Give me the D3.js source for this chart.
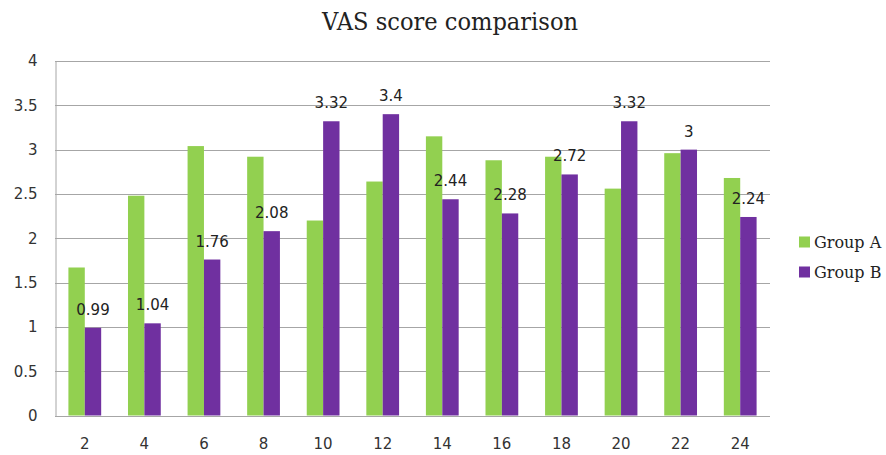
<!DOCTYPE html>
<html>
<head>
<meta charset="utf-8">
<script src="https://cdn.jsdelivr.net/npm/d3@7"></script>
<style>
  body { margin: 0; background: #fff; }
  svg { display: block; }
</style>
</head>
<body>
<svg id="chart" width="886" height="455"></svg>
<script>
const categories = ["2","4","6","8","10","12","14","16","18","20","22","24"];
const groupA = [1.67, 2.48, 3.04, 2.92, 2.20, 2.64, 3.15, 2.88, 2.92, 2.56, 2.96, 2.68];
const groupB = [0.99, 1.04, 1.76, 2.08, 3.32, 3.40, 2.44, 2.28, 2.72, 3.32, 3.00, 2.24];
const seriesNames = ["Group A", "Group B"];
const seriesColors = ["#92D050", "#7030A0"];
const yTicks = [0, 0.5, 1, 1.5, 2, 2.5, 3, 3.5, 4];
const title = "VAS score comparison";

(function () {
const svg = d3.select("#chart");
const pLeft = 55, pRight = 770, pTop = 61, pBottom = 415.5;

const x0 = d3.scaleBand().domain(categories).range([pLeft, pRight])
  .paddingInner(0.45).paddingOuter(0.225);
const x1 = d3.scaleBand().domain(seriesNames).range([0, x0.bandwidth()]);
const y = d3.scaleLinear().domain([0, 4]).range([pBottom, pTop]);

const tickFont = "'DejaVu Sans', sans-serif";
const serifFont = "'Palatino Linotype', 'Book Antiqua', 'DejaVu Serif', serif";

// gridlines
svg.append("g").selectAll("line").data(yTicks.filter(d => d > 0)).join("line")
  .attr("x1", pLeft).attr("x2", pRight)
  .attr("y1", d => Math.round(y(d)) + 0.5).attr("y2", d => Math.round(y(d)) + 0.5)
  .attr("stroke", "#a6a6a6").attr("stroke-width", 1);

// y axis
const yAxis = d3.axisLeft(y).tickValues(yTicks).tickSize(0).tickPadding(18)
  .tickFormat(d => d3.format("~g")(d));
const gy = svg.append("g").attr("transform", `translate(${pLeft + 0.5},0)`).call(yAxis);
gy.select(".domain").attr("stroke", "#a6a6a6");
gy.selectAll("text").attr("font-family", tickFont).attr("font-size", 15).attr("fill", "#333");

// bars
const rows = categories.map((c, i) => ({ cat: c, vals: [groupA[i], groupB[i]] }));
const g = svg.append("g").selectAll("g").data(rows).join("g")
  .attr("transform", d => `translate(${x0(d.cat)},0)`);
g.selectAll("rect").data(d => d.vals.map((v, k) => ({ k, v }))).join("rect")
  .attr("x", d => x1(seriesNames[d.k]))
  .attr("width", x1.bandwidth())
  .attr("y", d => y(d.v))
  .attr("height", d => y(0) - y(d.v))
  .attr("fill", d => seriesColors[d.k]);

// x axis
const xAxis = d3.axisBottom(x0).tickSize(0).tickPadding(22);
const gx = svg.append("g").attr("transform", `translate(0,${Math.round(pBottom) + 0.5})`).call(xAxis);
gx.select(".domain").attr("stroke", "#a6a6a6").attr("d", `M${pLeft},0H${pRight}`);
gx.selectAll("text").attr("font-family", tickFont).attr("font-size", 15).attr("fill", "#333");

// data labels (Group B)
svg.append("g").selectAll("text").data(rows).join("text")
  .attr("x", d => x0(d.cat) + x1("Group B") + x1.bandwidth() / 2)
  .attr("y", d => y(d.vals[1]) - 13)
  .attr("text-anchor", "middle")
  .attr("font-family", tickFont).attr("font-size", 15).attr("fill", "#222")
  .text(d => d3.format("~g")(d.vals[1]));

// title
svg.append("text").attr("x", 450).attr("y", 30).attr("text-anchor", "middle")
  .attr("font-family", serifFont).attr("font-size", 24).attr("fill", "#222")
  .attr("textLength", 256).attr("lengthAdjust", "spacingAndGlyphs")
  .text(title);

// legend
const lg = svg.append("g").selectAll("g").data(seriesNames).join("g")
  .attr("transform", (d, i) => `translate(799,${242 + i * 30})`);
lg.append("rect").attr("x", 0).attr("y", -5.5).attr("width", 11).attr("height", 11)
  .attr("fill", (d, i) => seriesColors[i]);
lg.append("text").attr("x", 15).attr("y", 0).attr("dy", "0.35em")
  .attr("font-family", serifFont).attr("font-size", 16).attr("fill", "#222")
  .text(d => d);
})();
</script>
</body>
</html>
